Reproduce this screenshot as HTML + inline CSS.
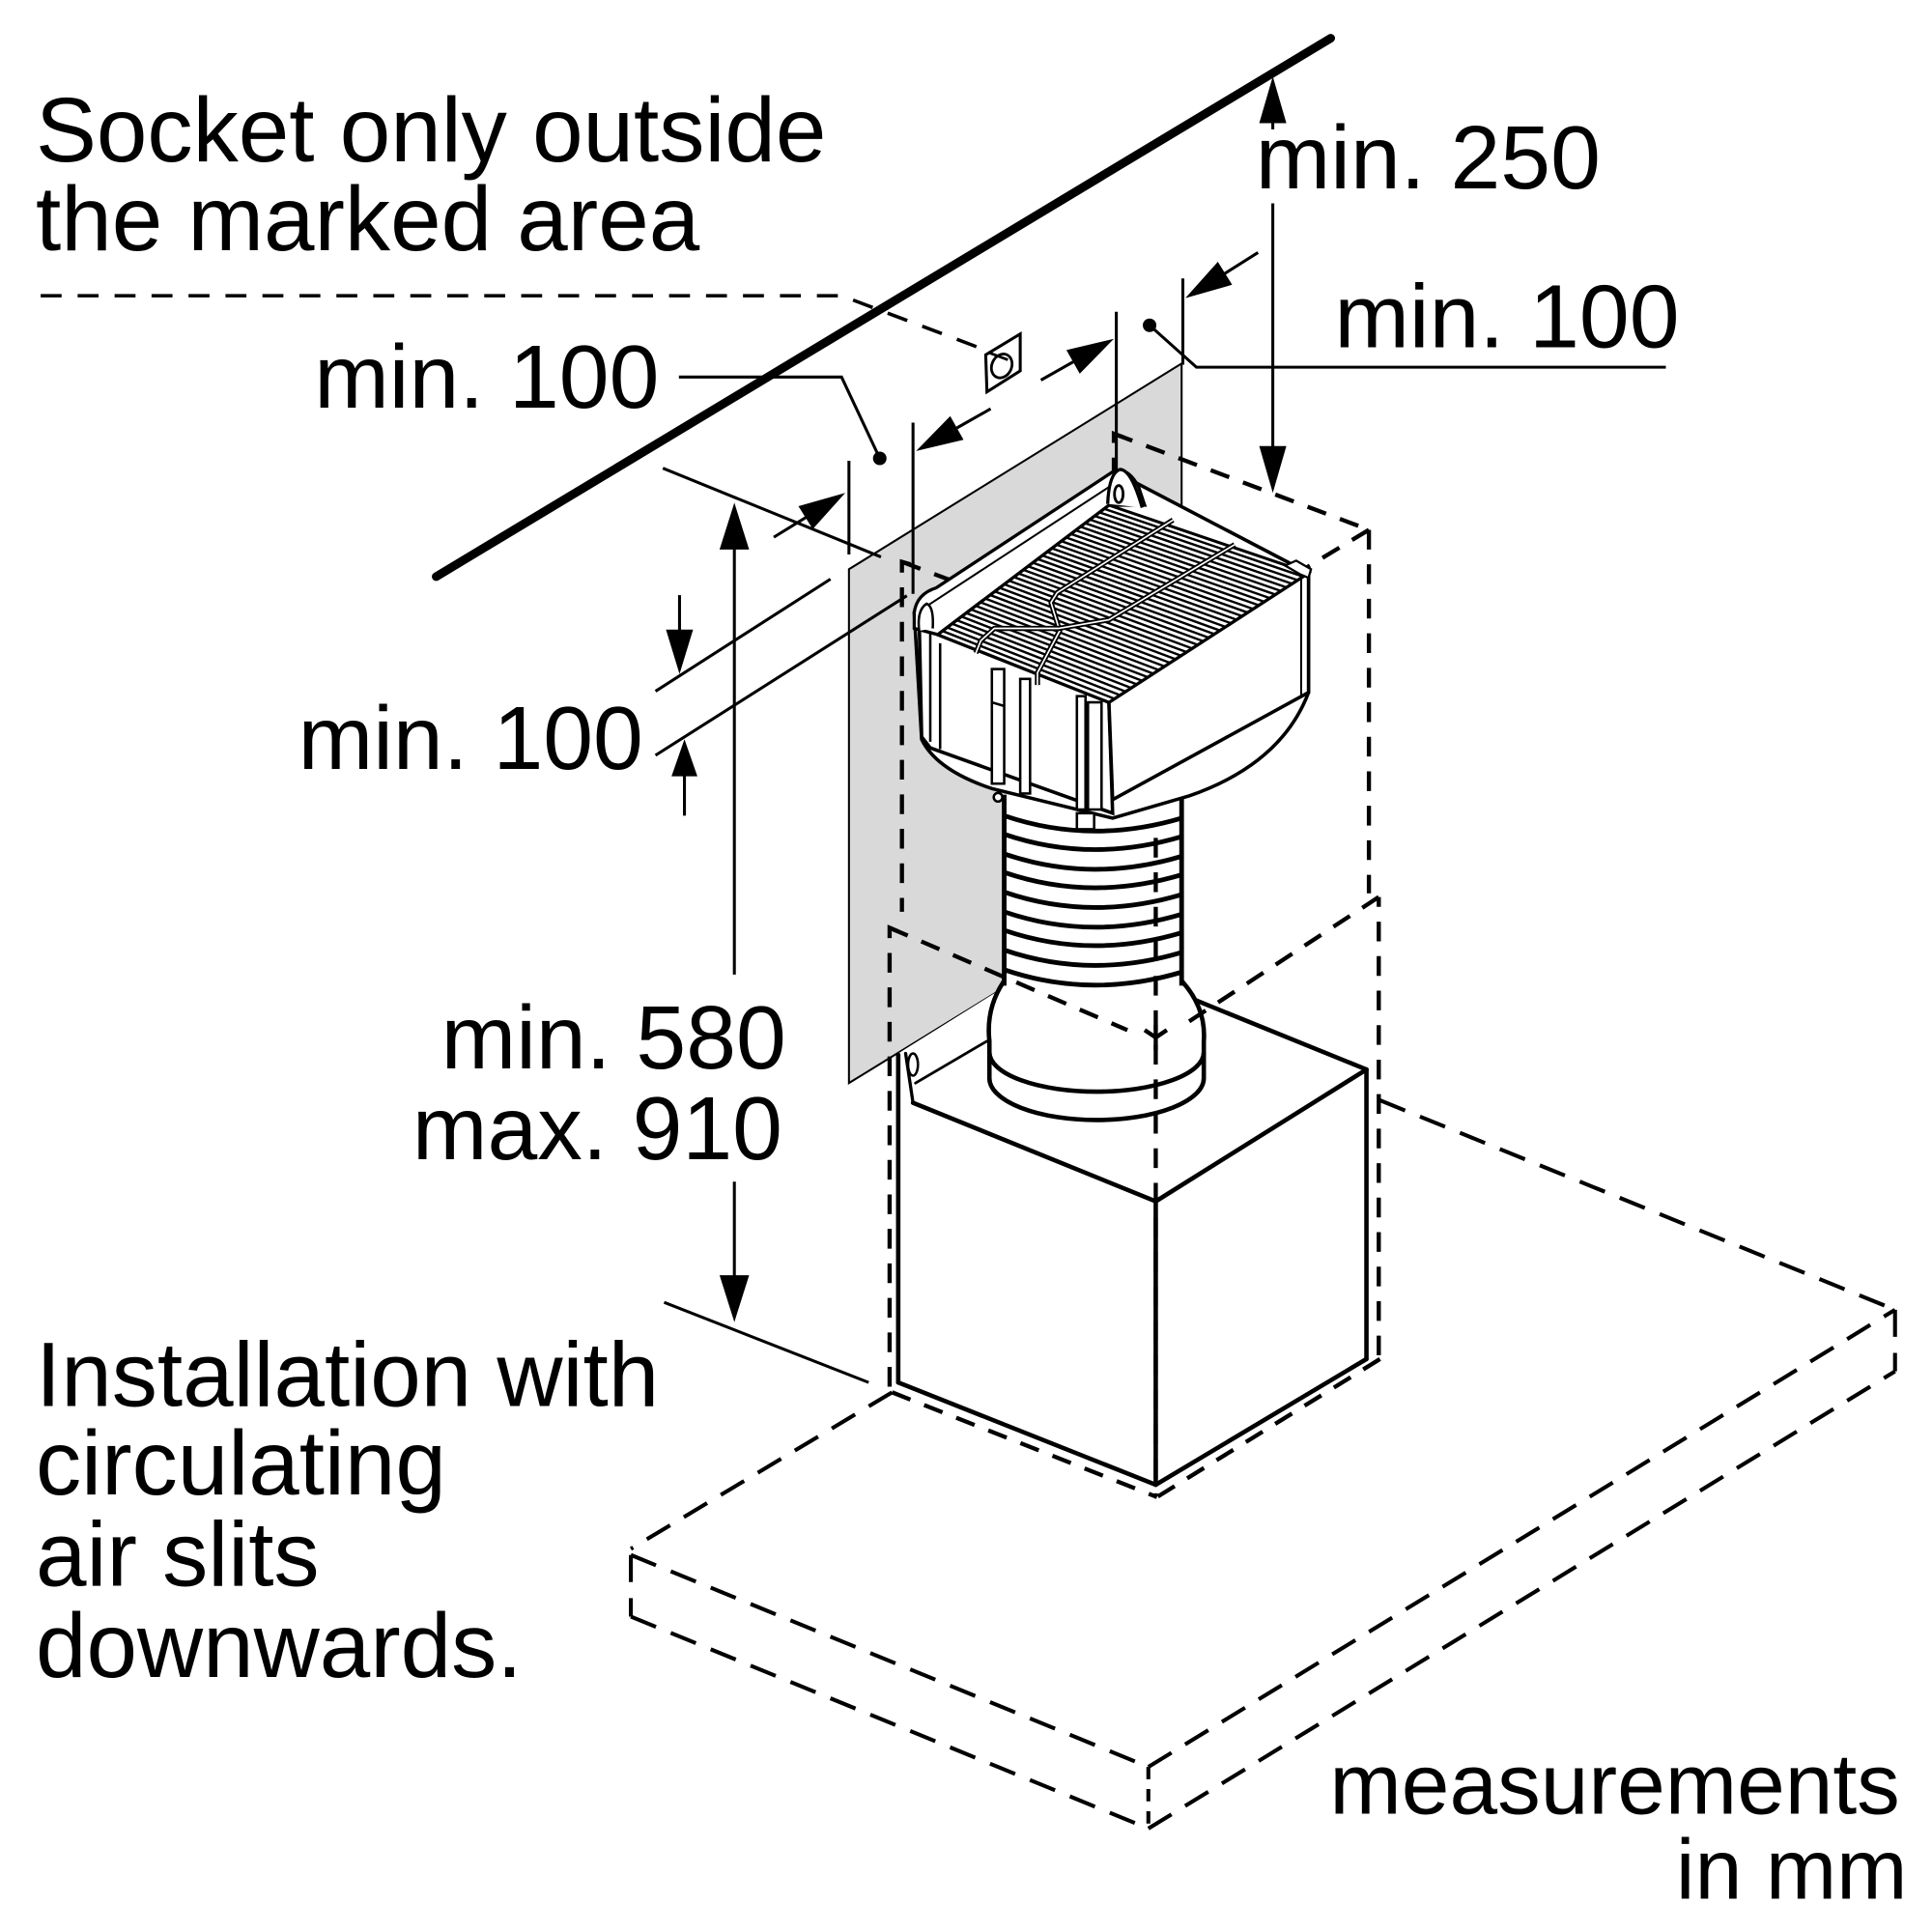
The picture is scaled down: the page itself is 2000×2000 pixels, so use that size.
<!DOCTYPE html>
<html><head><meta charset="utf-8"><style>
html,body{margin:0;padding:0;background:#fff;}
svg{display:block}
text{font-family:"Liberation Sans",Arial,sans-serif;fill:#000}
</style></head><body>
<svg xmlns="http://www.w3.org/2000/svg" width="2000" height="2000" viewBox="0 0 1568 1568">
<rect width="1568" height="1568" fill="#fff"/>

<!-- gray marked panel -->
<polygon points="689,462 959,295 959,713 689,879" fill="#d9d9d9" stroke="#000" stroke-width="1.6"/>

<!-- wall line -->
<line x1="354" y1="468" x2="1080" y2="31" stroke="#000" stroke-width="7" stroke-linecap="round"/>

<!-- top dashed line to socket -->
<path d="M33,240 L683,240 L818,291" fill="none" stroke="#000" stroke-width="2.8" stroke-dasharray="17 13"/>
<!-- socket -->
<polygon points="800,288 828,271 828,301 801,318" fill="#fff" stroke="#000" stroke-width="2.4"/>
<ellipse cx="813" cy="297" rx="8" ry="10" fill="none" stroke="#000" stroke-width="2.2" transform="rotate(25 813 297)"/>
<line x1="802" y1="286" x2="818" y2="292" stroke="#000" stroke-width="2.2"/>

<g stroke="#000" stroke-width="2.4" fill="none">
  <!-- leaders -->
  <polyline points="551,306 683,306 714,372"/>
  <polyline points="933,264 971,298 1352,298"/>
  <!-- extension lines -->
  <line x1="689" y1="374" x2="689" y2="450"/>
  <line x1="741" y1="343" x2="741" y2="482"/>
  <line x1="906" y1="253" x2="906" y2="381"/>
  <line x1="960" y1="226" x2="960" y2="296"/>
  <line x1="538" y1="380" x2="715" y2="452"/>
  <line x1="539" y1="1057" x2="705" y2="1122"/>
  <line x1="532" y1="561" x2="674" y2="470"/>
  <line x1="532" y1="613" x2="736" y2="483.5"/>
  <!-- shafts -->
  <line x1="628" y1="436" x2="654" y2="420"/>
  <line x1="776.6" y1="347.3" x2="804" y2="331.8"/>
  <line x1="844.8" y1="308.5" x2="871" y2="293.7"/>
  <line x1="994" y1="222" x2="1021" y2="205"/>
  <line x1="596" y1="444" x2="596" y2="791"/>
  <line x1="596" y1="959" x2="596" y2="1037"/>
  <line x1="551.5" y1="483" x2="551.5" y2="512"/>
  <line x1="555.5" y1="628" x2="555.5" y2="662"/>
  <line x1="1033" y1="98" x2="1033" y2="105"/>
  <line x1="1033" y1="165" x2="1033" y2="364"/>
</g>
<g fill="#000">
  <circle cx="714" cy="372" r="5.5"/>
  <circle cx="933" cy="264" r="5.5"/>
  <!-- arrowheads -->
  <polygon points="686,400 659.6,429.4 648,410.8"/>
  <polygon points="743.5,366 771.2,337.7 782,356.9"/>
  <polygon points="904,275 876.3,303.3 865.5,284.1"/>
  <polygon points="962,242 988.4,212.5 1000,231.1"/>
  <polygon points="596,408 584,446 608,446"/>
  <polygon points="596,1073 584,1035 608,1035"/>
  <polygon points="551.5,547 540.5,511 562.5,511"/>
  <polygon points="555.5,600 545,630 566,630"/>
  <polygon points="1033,62 1022,100 1044,100"/>
  <polygon points="1033,400 1022,362 1044,362"/>
</g>

<!-- upper dashed box (behind device) -->
<g stroke="#000" stroke-width="3.4" fill="none" stroke-dasharray="16 12">
  <path d="M739,458 L732,456 L732,740"/>
  <line x1="732" y1="456" x2="939" y2="534"/>
  <path d="M912,355 L904,352 L904,386"/>
  <line x1="904" y1="352" x2="1111" y2="430"/>
  <line x1="1111" y1="430" x2="1111" y2="725"/>
  <line x1="1111" y1="430" x2="939" y2="534"/>
</g>

<!-- lower solid box -->
<polygon points="729,855 812,803 966,803 1109,868 938,975 741,895" fill="#fff"/>
<polygon points="729,856 736,852 741,895 938,975 938,1205 729,1122" fill="#fff"/>
<polygon points="938,975 1109,868 1109,1103 938,1205" fill="#fff"/>
<g stroke="#000" stroke-width="3.6" fill="none" stroke-linecap="round">
  <line x1="729" y1="856" x2="729" y2="1122"/>
  <line x1="729" y1="1122" x2="938" y2="1205"/>
  <line x1="938" y1="975" x2="938" y2="1205"/>
  <line x1="938" y1="1205" x2="1109" y2="1103"/>
  <line x1="1109" y1="868" x2="1109" y2="1103"/>
  <line x1="741" y1="895" x2="938" y2="975"/>
  <line x1="938" y1="975" x2="1109" y2="868"/>
  <line x1="1109" y1="868" x2="966" y2="810"/>
  <line x1="743" y1="879" x2="801" y2="845" stroke-width="2.2"/>
  <line x1="741" y1="895" x2="735" y2="855" stroke-width="2.6"/>
</g>
<ellipse cx="741" cy="864" rx="4" ry="9" fill="#fff" stroke="#000" stroke-width="2"/>

<!-- collar -->
<path d="M815,796 Q800,818 803,845 L803,875 A87,34 0 0 0 977,875 L977,845 Q979,818 959,796 Z" fill="#fff" stroke="#000" stroke-width="3.6"/>
<path d="M803,854 A87,32 0 0 0 977,854" fill="none" stroke="#000" stroke-width="3.6"/>

<!-- hose -->
<rect x="815" y="645" width="144" height="156" fill="#fff"/>
<g stroke="#000" stroke-width="3.8" fill="none">
  <line x1="815" y1="645" x2="815" y2="800"/>
  <line x1="959" y1="645" x2="959" y2="800"/>
  <path d="M815,662 Q885,686 959,664"/>
  <path d="M815,677 Q885,701 959,679"/>
  <path d="M815,693 Q885,717 959,695"/>
  <path d="M815,708 Q885,732 959,710"/>
  <path d="M815,724 Q885,748 959,726"/>
  <path d="M815,740 Q885,764 959,742"/>
  <path d="M815,755 Q885,779 959,757"/>
  <path d="M815,771 Q885,795 959,773"/>
  <path d="M815,787 Q885,811 959,789"/>
</g>

<!-- filter housing -->
<path d="M748,600 Q760,625 805,640 L903,664 L965,646 Q1040,620 1062,562 L1062,465 L905,383 L742,497 Z" fill="#fff" stroke="#000" stroke-width="2.8"/>
<!-- left face -->
<polygon points="746,503 761,515 900,570 903,660 755,607 748,598" fill="#fff" stroke="#000" stroke-width="2.8"/>
<g stroke="#000" stroke-width="2" fill="#fff">
  <line x1="755" y1="512" x2="755" y2="602"/>
  <line x1="763" y1="522" x2="763" y2="608"/>
  <rect x="805" y="543" width="10" height="93"/>
  <rect x="828" y="551" width="8" height="93"/>
  <rect x="874" y="565" width="7" height="92"/>
  <rect x="883" y="570" width="11" height="87"/>
  <line x1="805" y1="570" x2="815" y2="573"/>
  <rect x="874" y="660" width="14" height="13"/>
  <circle cx="810" cy="647" r="3.5"/>
</g>
<!-- right face -->
<polygon points="900,570 1062,465 1062,562 903,649" fill="#fff" stroke="#000" stroke-width="2.8"/>
<line x1="1056" y1="470" x2="1056" y2="564" stroke="#000" stroke-width="1.6"/>
<!-- top grille face -->
<polygon points="761,515 900,410 1062,465 900,570" fill="#fff" stroke="#000" stroke-width="2.4"/>
<path stroke="#000" stroke-width="1.9" fill="none" d="
M764.9,512.1L904.5,567.1M768.7,509.2L909,564.2M772.6,506.2L913.5,561.2M776.4,503.3L918,558.3
M780.3,500.4L922.5,555.4M784.2,497.5L927,552.5M788,494.6L931.5,549.6M791.9,491.7L936,546.7
M795.7,488.8L940.5,543.8M799.6,485.8L945,540.8M803.5,482.9L949.5,537.9M807.3,480L954,535
M811.2,477.1L958.5,532.1M815.1,474.2L963,529.2M818.9,471.3L967.5,526.3M822.8,468.3L972,523.3
M826.6,465.4L976.5,520.4M830.5,462.5L981,517.5M834.4,459.6L985.5,514.6M838.2,456.7L990,511.7
M842.1,453.7L994.5,508.7M845.9,450.8L999,505.8M849.8,447.9L1003.5,502.9M853.7,445L1008,500
M857.5,442.1L1012.5,497.1M861.4,439.2L1017,494.2M865.2,436.2L1021.5,491.2M869.1,433.3L1026,488.3
M873,430.4L1030.5,485.4M876.8,427.5L1035,482.5M880.7,424.6L1039.5,479.6M884.6,421.7L1044,476.7
M888.4,418.7L1048.5,473.7M892.3,415.8L1053,470.8M896.1,412.9L1057.5,467.9"/>
<!-- rail -->
<path d="M742,510 L742,497 Q744,482 760,477 L903,383 Q915,378 924,395 L929,410 L900,410 L761,515 Z" fill="#fff" stroke="#000" stroke-width="2.6"/>
<line x1="752" y1="492" x2="905" y2="392" stroke="#000" stroke-width="1.6"/>
<!-- hook -->
<path d="M899,409 Q900,384 909,381 Q918,381 927,412" fill="#fff" stroke="#000" stroke-width="2.6"/>
<ellipse cx="908" cy="401" rx="3.5" ry="7" fill="#fff" stroke="#000" stroke-width="2.2"/>
<path d="M746,512 Q744,495 752,490 Q758,492 757,510" fill="#fff" stroke="#000" stroke-width="2"/>
<!-- tab -->
<polygon points="1043,459 1052,455 1064,462 1062,469 1055,466" fill="#fff" stroke="#000" stroke-width="1.8"/>
<!-- wires -->
<g fill="none" stroke-linejoin="round">
  <polyline points="952,422 858,481 853,489 860,512 842,546 842,556" stroke="#000" stroke-width="4.2"/>
  <polyline points="952,422 858,481 853,489 860,512 842,546 842,556" stroke="#fff" stroke-width="1.3"/>
  <polyline points="1002,442 900,503 859,510 807,510 796,520 792,530" stroke="#000" stroke-width="4.2"/>
  <polyline points="1002,442 900,503 859,510 807,510 796,520 792,530" stroke="#fff" stroke-width="1.3"/>
</g>

<!-- dashed lines over device -->
<g stroke="#000" stroke-width="3.4" fill="none" stroke-dasharray="16 12">
  <line x1="938" y1="680" x2="938" y2="1213"/>
  <line x1="722" y1="753" x2="915" y2="836"/>
  <line x1="1119" y1="728" x2="962" y2="831"/>
  <path d="M729,756 L722,753 L722,1128"/>
  <path d="M1119,736 L1119,728 L1119,1103"/>
  <line x1="724" y1="1130" x2="939" y2="1215"/>
  <line x1="1120" y1="1103" x2="939" y2="1215"/>
</g>
<path d="M929,836 L938,842 L947,836 M938,832 L938,852" stroke="#000" stroke-width="3.4" fill="none"/>

<!-- countertop slab -->
<g stroke="#000" stroke-width="3.2" fill="none" stroke-dasharray="22 13">
  <line x1="724" y1="1130" x2="512" y2="1257"/>
  <line x1="512" y1="1262" x2="512" y2="1312"/>
  <line x1="512" y1="1262" x2="932" y2="1434"/>
  <line x1="512" y1="1312" x2="932" y2="1484"/>
  <line x1="932" y1="1434" x2="932" y2="1484" stroke-dasharray="10 8"/>
  <line x1="932" y1="1434" x2="1538" y2="1063"/>
  <line x1="932" y1="1484" x2="1538" y2="1113"/>
  <line x1="1538" y1="1063" x2="1538" y2="1113"/>
  <line x1="1120" y1="893" x2="1538" y2="1063"/>
</g>

<!-- text -->
<text x="29" y="131" style="font-size:74px">Socket only outside</text>
<text x="29" y="203" style="font-size:74px">the marked area</text>
<text x="255" y="331" style="font-size:73px">min. 100</text>
<text x="1019" y="153" style="font-size:73px">min. 250</text>
<text x="1083" y="282" style="font-size:73px">min. 100</text>
<text x="242" y="624" style="font-size:73px">min. 100</text>
<text x="638" y="867" text-anchor="end" style="font-size:73px">min. 580</text>
<text x="635" y="941" text-anchor="end" style="font-size:73px">max. 910</text>
<text x="29" y="1141" style="font-size:74px">Installation with</text>
<text x="29" y="1213" style="font-size:74px">circulating</text>
<text x="29" y="1287" style="font-size:74px">air slits</text>
<text x="29" y="1361" style="font-size:74px">downwards.</text>
<text x="1542" y="1472" text-anchor="end" style="font-size:70px">measurements</text>
<text x="1548" y="1541" text-anchor="end" style="font-size:69px">in mm</text>
</svg>
</body></html>
